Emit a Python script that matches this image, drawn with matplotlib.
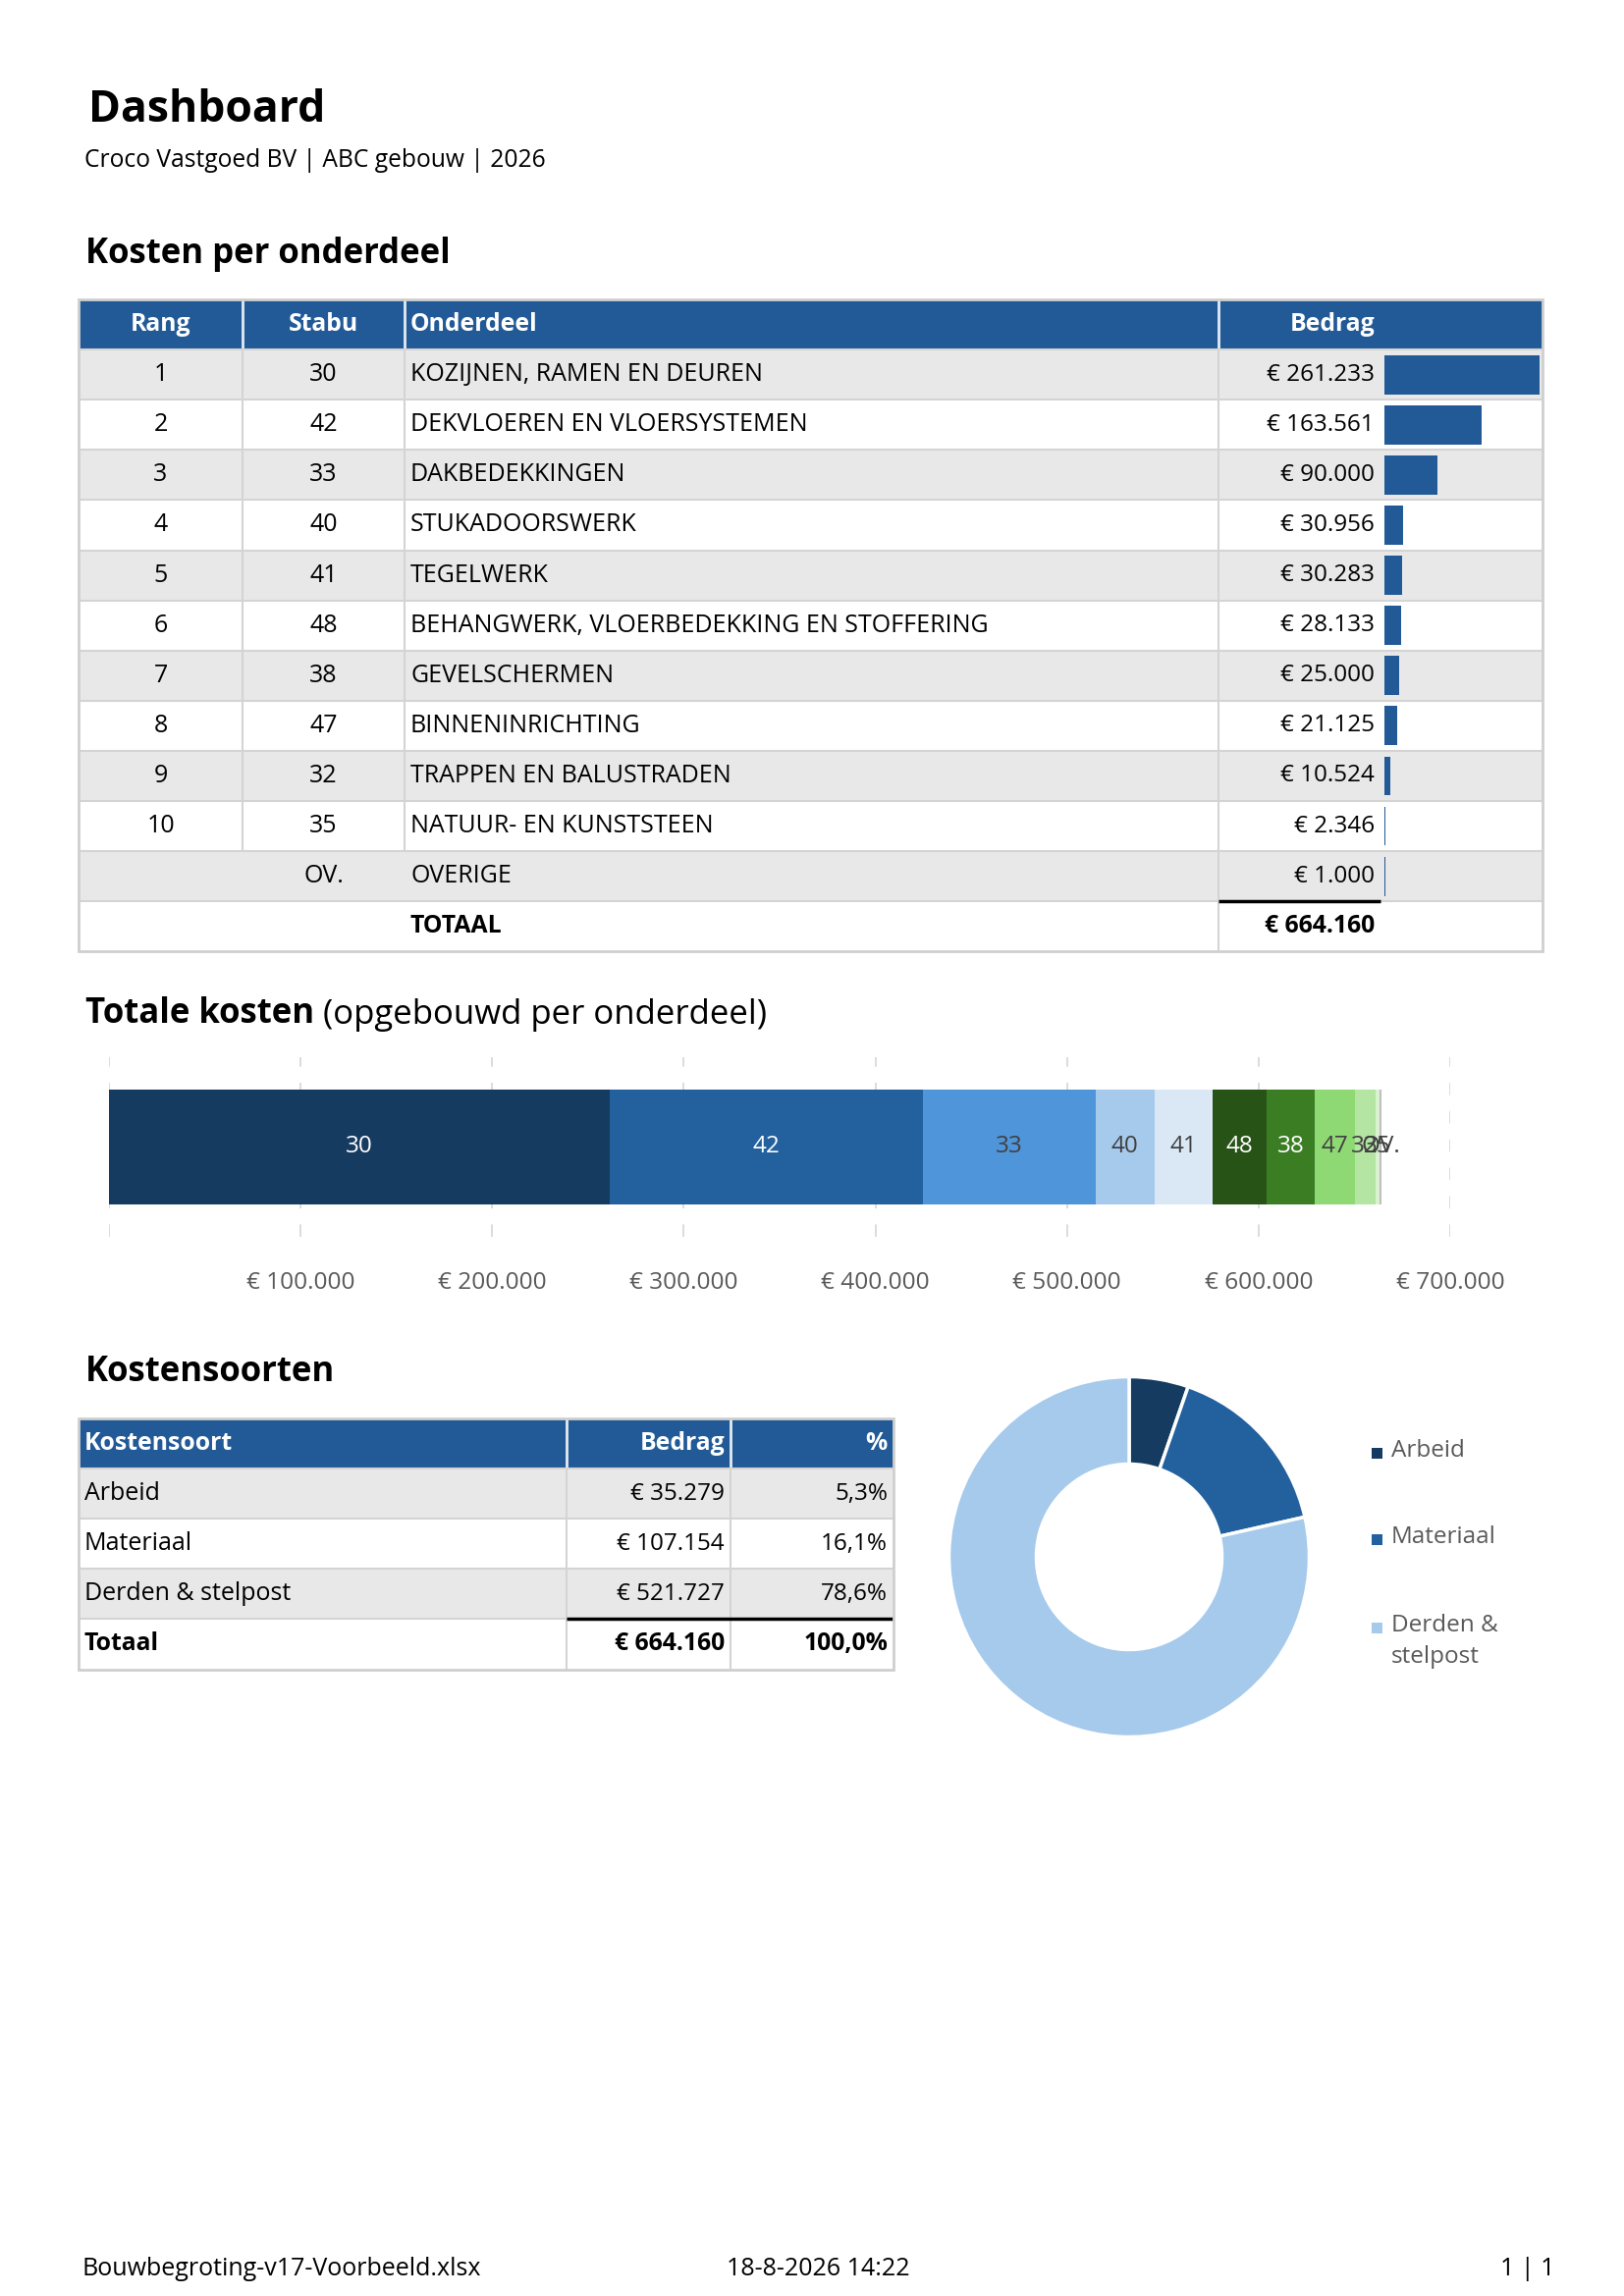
import matplotlib
matplotlib.use('Agg')
import matplotlib.pyplot as plt
from matplotlib.patches import Rectangle
import numpy as np

plt.rcParams['font.family'] = ['Open Sans', 'DejaVu Sans']

# ---------------- data ----------------
rang = ['1', '2', '3', '4', '5', '6', '7', '8', '9', '10', '']
stabu = ['30', '42', '33', '40', '41', '48', '38', '47', '32', '35', 'OV.']
onderdeel = ['KOZIJNEN, RAMEN EN DEUREN', 'DEKVLOEREN EN VLOERSYSTEMEN', 'DAKBEDEKKINGEN',
             'STUKADOORSWERK', 'TEGELWERK', 'BEHANGWERK, VLOERBEDEKKING EN STOFFERING',
             'GEVELSCHERMEN', 'BINNENINRICHTING', 'TRAPPEN EN BALUSTRADEN',
             'NATUUR- EN KUNSTSTEEN', 'OVERIGE']
bedrag = [261233, 163561, 90000, 30956, 30283, 28133, 25000, 21125, 10524, 2346, 1000]
totaal = 664160

kostensoort = ['Arbeid', 'Materiaal', 'Derden & stelpost']
kosten_bedrag = [35279, 107154, 521727]

axis_ticks = [0, 100000, 200000, 300000, 400000, 500000, 600000, 700000]

seg_colors = ['#163B61', '#22609E', '#4F95D9', '#A6CAEC', '#DAE8F6', '#275317',
              '#3B7D23', '#8ED973', '#B4E5A2', '#D9F2D0', '#BFBFBF']
seg_text = ['white', 'white', '#404040', '#404040', '#404040', 'white',
            'white', '#404040', '#404040', '#404040', '#404040']
donut_colors = ['#163B61', '#22609E', '#A6CAEC']

HEADER = '#225A97'
GRAY = '#E8E8E8'
LINE = '#D4D4D4'


def eur(v):
    return '€ ' + f'{v:,}'.replace(',', '.')


def pct(v):
    return f'{v:.1f}%'.replace('.', ',')


# ---------------- figure ----------------
W, H = 1654, 2339
fig = plt.figure(figsize=(W / 100, H / 100), dpi=100)
bg = fig.add_axes([0, 0, 1, 1])
bg.set_xlim(0, W)
bg.set_ylim(H, 0)
bg.axis('off')


def fig_axes(x0, y0, x1, y1):
    return fig.add_axes([x0 / W, 1 - y1 / H, (x1 - x0) / W, (y1 - y0) / H])


def rect(x0, y0, x1, y1, fc):
    bg.add_patch(Rectangle((x0, y0), x1 - x0, y1 - y0, fc=fc, ec='none', zorder=1))


def hline(x0, x1, y, c=LINE, lw=1.5):
    bg.plot([x0, x1], [y, y], color=c, lw=lw, zorder=2, solid_capstyle='butt')


def vline(x, y0, y1, c=LINE, lw=1.5):
    bg.plot([x, x], [y0, y1], color=c, lw=lw, zorder=2, solid_capstyle='butt')


FS = 18
FSB = 17.8
SEC = 25

# titles
bg.text(90, 113, 'Dashboard', fontsize=32, fontweight='bold', va='center', ha='left')
bg.text(86, 163, 'Croco Vastgoed BV | ABC gebouw | 2026', fontsize=17.7, va='center', ha='left')
bg.text(87, 259, 'Kosten per onderdeel', fontsize=SEC, fontweight='bold', va='center', ha='left')

# ---------------- table 1 ----------------
cols = [80, 247, 412, 1241, 1571]
top = 305
rh = 51.1
nrows = len(stabu)
rect(cols[0], top, cols[-1], top + rh, HEADER)
for x in cols[1:-1]:
    vline(x, top, top + rh, c='#E6ECF3', lw=2)
ty = top + rh / 2
bg.text((cols[0] + cols[1]) / 2, ty, 'Rang', color='white', fontweight='bold', fontsize=FSB, ha='center', va='center', zorder=3)
bg.text((cols[1] + cols[2]) / 2, ty, 'Stabu', color='white', fontweight='bold', fontsize=FSB, ha='center', va='center', zorder=3)
bg.text(cols[2] + 6, ty, 'Onderdeel', color='white', fontweight='bold', fontsize=FSB, ha='left', va='center', zorder=3)
bg.text(1400, ty, 'Bedrag', color='white', fontweight='bold', fontsize=FSB, ha='right', va='center', zorder=3)

for i in range(nrows + 1):
    y0 = top + rh * (i + 1)
    y1 = y0 + rh
    if i % 2 == 0 and i < nrows:
        rect(cols[0], y0, cols[-1], y1, GRAY)
    hline(cols[0], cols[-1], y0)
    if i < nrows and rang[i] != '':
        vline(cols[1], y0, y1)
        vline(cols[2], y0, y1)
    vline(cols[3], y0, y1)
    yc = (y0 + y1) / 2
    if i < nrows:
        bg.text((cols[0] + cols[1]) / 2, yc, rang[i], fontsize=FS, ha='center', va='center', zorder=3)
        bg.text((cols[1] + cols[2]) / 2, yc, stabu[i], fontsize=FS, ha='center', va='center', zorder=3)
        bg.text(cols[2] + 6, yc, onderdeel[i], fontsize=FS, ha='left', va='center', zorder=3)
        bg.text(1400, yc, eur(bedrag[i]), fontsize=17.5, ha='right', va='center', zorder=3)
    else:
        bg.text(cols[2] + 6, yc, 'TOTAAL', fontsize=FSB, fontweight='bold', ha='left', va='center', zorder=3)
        bg.text(1400, yc, eur(totaal), fontsize=FSB, fontweight='bold', ha='right', va='center', zorder=3)
        hline(cols[3], 1406, y0, c='black', lw=2.5)
bottom1 = top + rh * (nrows + 2)
bg.add_patch(Rectangle((cols[0], top), cols[-1] - cols[0], bottom1 - top, fc='none', ec='#CFCFCF', lw=2, zorder=4))

# in-cell data bars
axb = fig_axes(1410, top + rh, 1568, top + rh * (nrows + 1))
axb.barh(range(nrows), bedrag, height=0.78, color=HEADER)
axb.set_xlim(0, max(bedrag))
axb.set_ylim(nrows - 0.5, -0.5)
axb.axis('off')

# ---------------- stacked bar ----------------
t1 = bg.text(87, 1033, 'Totale kosten', fontsize=SEC, fontweight='bold', va='center', ha='left')
bg.annotate(' (opgebouwd per onderdeel)', xy=(1, 0), xycoords=t1, fontsize=SEC,
            va='bottom', ha='left')

axs = fig_axes(111, 1077, 1477, 1260)
lefts = np.concatenate([[0], np.cumsum(bedrag)[:-1]])
for i in range(nrows):
    axs.barh(0, bedrag[i], left=lefts[i], height=1.0, color=seg_colors[i], zorder=2)
    axs.text(lefts[i] + bedrag[i] / 2, 0, stabu[i], color=seg_text[i], fontsize=17.5,
             ha='center', va='center', zorder=3)
axs.set_xlim(axis_ticks[0], axis_ticks[-1])
axs.set_ylim(-0.78, 0.78)
axs.set_xticks(axis_ticks)
axs.set_xticklabels(['' if v == 0 else eur(v) for v in axis_ticks], color='#595959', fontsize=17.6)
axs.set_yticks([])
axs.grid(axis='x', color='#D9D9D9', lw=1.3, linestyle=(0, (7, 9)), zorder=1)
axs.set_axisbelow(True)
axs.tick_params(axis='x', length=0, pad=25)
for s in axs.spines.values():
    s.set_visible(False)

# ---------------- Kostensoorten ----------------
bg.text(87, 1398, 'Kostensoorten', fontsize=SEC, fontweight='bold', va='center', ha='left')
c2 = [80, 577, 744, 910]
top2 = 1445
rect(c2[0], top2, c2[-1], top2 + rh, HEADER)
for x in c2[1:-1]:
    vline(x, top2, top2 + rh, c='#E6ECF3', lw=2)
ty = top2 + rh / 2
bg.text(c2[0] + 6, ty, 'Kostensoort', color='white', fontweight='bold', fontsize=FSB, ha='left', va='center', zorder=3)
bg.text(c2[2] - 6, ty, 'Bedrag', color='white', fontweight='bold', fontsize=FSB, ha='right', va='center', zorder=3)
bg.text(c2[3] - 6, ty, '%', color='white', fontweight='bold', fontsize=FSB, ha='right', va='center', zorder=3)
nk = len(kostensoort)
ktot = sum(kosten_bedrag)
for i in range(nk + 1):
    y0 = top2 + rh * (i + 1)
    y1 = y0 + rh
    if i % 2 == 0 and i < nk:
        rect(c2[0], y0, c2[-1], y1, GRAY)
    hline(c2[0], c2[-1], y0)
    vline(c2[1], y0, y1)
    vline(c2[2], y0, y1)
    yc = (y0 + y1) / 2
    if i < nk:
        bg.text(c2[0] + 6, yc, kostensoort[i], fontsize=FS, ha='left', va='center', zorder=3)
        bg.text(c2[2] - 6, yc, eur(kosten_bedrag[i]), fontsize=17.5, ha='right', va='center', zorder=3)
        bg.text(c2[3] - 6, yc, pct(kosten_bedrag[i] / ktot * 100), fontsize=17.5, ha='right', va='center', zorder=3)
    else:
        bg.text(c2[0] + 6, yc, 'Totaal', fontsize=FSB, fontweight='bold', ha='left', va='center', zorder=3)
        bg.text(c2[2] - 6, yc, eur(ktot), fontsize=FSB, fontweight='bold', ha='right', va='center', zorder=3)
        bg.text(c2[3] - 6, yc, pct(100.0), fontsize=FSB, fontweight='bold', ha='right', va='center', zorder=3)
        hline(c2[1], c2[3], y0, c='black', lw=2.5)
bottom2 = top2 + rh * (nk + 2)
bg.add_patch(Rectangle((c2[0], top2), c2[-1] - c2[0], bottom2 - top2, fc='none', ec='#CFCFCF', lw=2, zorder=4))

# ---------------- donut ----------------
cx, cy, r = 1150, 1586, 183.5
axd = fig_axes(cx - r, cy - r, cx + r, cy + r)
axd.pie(kosten_bedrag, colors=donut_colors, startangle=90, counterclock=False, radius=1,
        wedgeprops=dict(width=0.485, edgecolor='white', linewidth=2.5))
axd.set_xlim(-1, 1)
axd.set_ylim(-1, 1)
axd.set_aspect('equal')
axd.axis('off')

leg_y = [1480, 1568, 1658]
for i, name in enumerate(kostensoort):
    bg.add_patch(Rectangle((1397, leg_y[i] - 5.5), 11, 11, fc=donut_colors[i], ec='none', zorder=3))
    label = name.replace(' & ', ' &\n')
    bg.text(1417, leg_y[i] - 14, label, fontsize=17.5, color='#595959', ha='left', va='top',
            linespacing=1.42, zorder=3)

# ---------------- footer ----------------
bg.text(83, 2311, 'Bouwbegroting-v17-Voorbeeld.xlsx', fontsize=18, ha='left', va='center')
bg.text(833, 2311, '18-8-2026 14:22', fontsize=18, ha='center', va='center')
bg.text(1583, 2311, '1 | 1', fontsize=18, ha='right', va='center')

fig.savefig('out.png', dpi=100, facecolor='white')
